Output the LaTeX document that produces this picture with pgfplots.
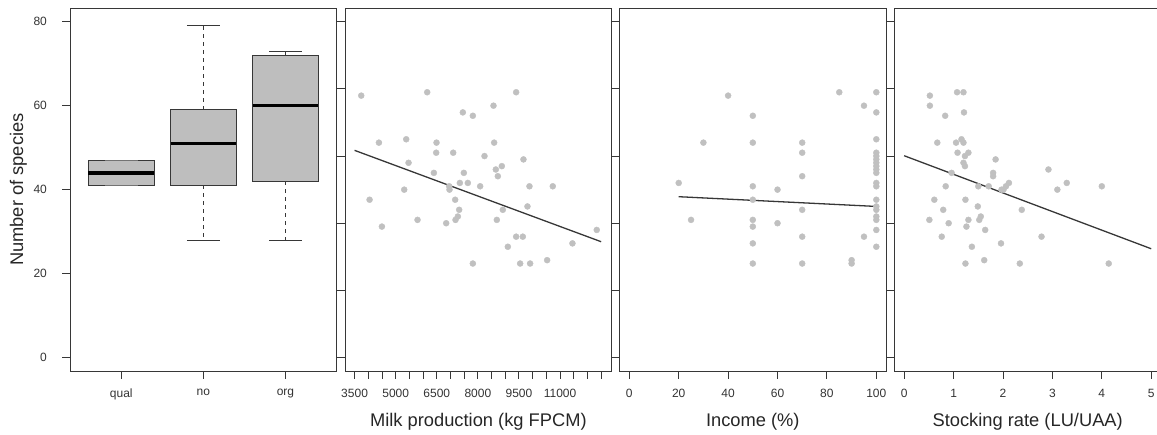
\documentclass[border=0pt]{standalone}
\usepackage{fontspec}
\setmainfont{Liberation Sans}
\usepackage{pgfplots}
\pgfplotsset{compat=1.18}

\definecolor{ptgray}{RGB}{192,192,192}
\definecolor{boxgray}{RGB}{190,190,190}
\definecolor{frame}{RGB}{55,55,55}

\pgfplotsset{
  panel/.style={
    scale only axis, width=266.8pt, height=362.7pt,
    axis line style={frame, line width=1pt},
    tick style={frame, line width=0.9pt},
    tick align=outside, major tick length=7.6pt,
    xtick pos=left, ytick pos=left,
    scaled x ticks=false,
    ticklabel style={font=\fontsize{12}{14}\selectfont, text=black!80},
    /pgf/number format/assume math mode=true,
    label style={font=\fontsize{18.3}{21}\selectfont, text=black!85},
    xlabel style={at={(axis description cs:0.5,-0.154)}, anchor=base},
    xticklabel shift=7pt,
  },
  scat/.style={
    panel, ymin=-4, ymax=104, ytick={0,20,...,100}, yticklabels={},
  },
  pts/.style={only marks, mark=*, mark size=3pt, color=ptgray,
    mark options={draw=ptgray, fill=ptgray}},
}

\begin{document}
\begin{tikzpicture}
\useasboundingbox (0,0) rectangle (1157pt,434pt);
\clip (0,0) rectangle (1157pt,434pt);

% boxplot panel
\begin{axis}[panel, at={(70pt,63pt)}, anchor=south west,
  xmin=0.375, xmax=3.625, ymin=-3.2, ymax=83.2,
  xtick={1,2,3}, xticklabels={qual,no,org},
  ytick={0,20,...,80}, yticklabel shift=12pt,
  ylabel={Number of species},
  ylabel style={at={(axis description cs:-0.193,0.5)}, anchor=center}]
  % whiskers
  \addplot[frame, line width=1pt, dash pattern=on 4pt off 4pt] coordinates {(2,59) (2,79)};
  \addplot[frame, line width=1pt, dash pattern=on 4pt off 4pt] coordinates {(2,41) (2,28)};
  \addplot[frame, line width=1pt, dash pattern=on 4pt off 4pt] coordinates {(3,72) (3,73)};
  \addplot[frame, line width=1pt, dash pattern=on 4pt off 4pt] coordinates {(3,42) (3,28)};
  % caps
  \addplot[frame, line width=1pt] coordinates {(1.8,79) (2.2,79)};
  \addplot[frame, line width=1pt] coordinates {(1.8,28) (2.2,28)};
  \addplot[frame, line width=1pt] coordinates {(2.8,73) (3.2,73)};
  \addplot[frame, line width=1pt] coordinates {(2.8,28) (3.2,28)};
  % boxes
  \addplot[fill=boxgray, draw=frame, line width=1pt] coordinates {(0.6,41) (1.4,41) (1.4,47) (0.6,47)} -- cycle;
  \addplot[fill=boxgray, draw=frame, line width=1pt] coordinates {(1.6,41) (2.4,41) (2.4,59) (1.6,59)} -- cycle;
  \addplot[fill=boxgray, draw=frame, line width=1pt] coordinates {(2.6,42) (3.4,42) (3.4,72) (2.6,72)} -- cycle;
  \addplot[frame!70, line width=0.8pt] coordinates {(0.8,41) (1.2,41)};
  \addplot[frame!70, line width=0.8pt] coordinates {(0.8,47) (1.2,47)};
  % medians
  \addplot[black, line width=3.5pt] coordinates {(0.6,44) (1.4,44)};
  \addplot[black, line width=3.5pt] coordinates {(1.6,51) (2.4,51)};
  \addplot[black, line width=3.5pt] coordinates {(2.6,60) (3.4,60)};
\end{axis}

% milk production
\begin{axis}[scat, at={(345pt,63pt)}, anchor=south west,
  xmin=3150, xmax=12890,
  xtick={3500,4000,...,12500},
  xticklabels={3500,,,5000,,,6500,,,8000,,,9500,,,11000,,,},
  xlabel={Milk production (kg FPCM)}]
  \addplot[pts] coordinates {
    (3743,78) (6151,79) (9398,79) (8571,75) (7452,73) (7817,72)
    (4388,64) (5385,65) (6491,64) (8595,64) (6479,61) (7100,61)
    (8242,60) (9665,59) (5470,58) (8875,57) (8656,56) (6394,55)
    (7488,55) (8729,54) (7342,52) (7634,52) (8084,51) (9884,51)
    (10735,51) (6953,51) (6965,50) (5312,50) (4047,47) (7172,47)
    (9811,45) (7318,44) (8911,44) (7269,42) (7184,41) (5798,41)
    (8692,41) (6844,40) (4497,39) (12340,38) (9398,36) (9641,36)
    (11453,34) (9094,33) (10529,29) (7817,28) (9544,28) (9908,28)
  };
  \addplot[frame, line width=1.3pt] coordinates {(3500,61.7) (12500,34.5)};
\end{axis}

% income
\begin{axis}[scat, at={(619.4pt,63pt)}, anchor=south west,
  xmin=-4, xmax=104, xtick={0,20,...,100},
  xlabel={Income (\%)}]
  \addplot[pts] coordinates {
    (40,78) (85,79) (100,79) (95,75) (100,73) (50,72)
    (30,64) (50,64) (70,64) (100,65) (70,61)
    (100,61) (100,60) (100,59) (100,58) (100,57) (100,56) (100,55)
    (70,54) (20,52) (50,51) (100,52) (100,51) (60,50)
    (50,47) (100,47) (70,44) (100,45) (100,44)
    (25,41) (50,41) (100,42) (100,41) (60,40) (50,39) (100,38)
    (70,36) (95,36) (50,34) (100,33) (90,29) (90,28) (50,28) (70,28)
  };
  \addplot[frame, line width=1.3pt] coordinates {(20,47.9) (100,45.0)};
\end{axis}

% stocking rate
\begin{axis}[scat, at={(894.3pt,63pt)}, anchor=south west,
  xmin=-0.2, xmax=5.2, xtick={0,1,...,5},
  xlabel={Stocking rate (LU/UAA)}]
  \addplot[pts] coordinates {
    (0.52,78) (0.52,75) (1.07,79) (1.20,79) (1.21,73) (0.83,72)
    (0.67,64) (1.05,64) (1.16,65) (1.20,64) (1.08,61) (1.30,61)
    (1.23,60) (1.85,59) (1.20,58) (1.23,57) (2.92,56) (0.96,55)
    (1.80,55) (1.80,54) (2.12,52) (2.06,51) (2.01,50) (1.97,50)
    (3.29,52) (4.00,51) (0.84,51) (1.50,51) (1.71,51) (3.10,50)
    (0.61,47) (1.24,47) (1.49,45) (0.79,44) (2.38,44) (1.55,42)
    (1.52,41) (0.51,41) (1.30,41) (0.90,40) (1.26,39) (1.64,38)
    (0.76,36) (2.78,36) (1.96,34) (1.37,33) (1.62,29) (1.24,28)
    (2.34,28) (4.14,28)
  };
  \addplot[frame, line width=1.3pt] coordinates {(0,60.1) (5,32.4)};
\end{axis}
\end{tikzpicture}
\end{document}
